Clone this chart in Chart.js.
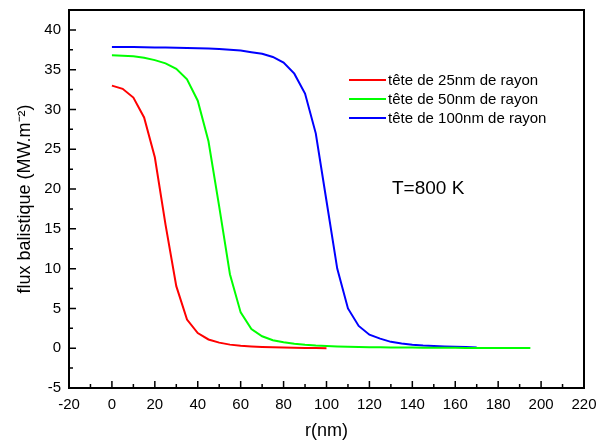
<!DOCTYPE html>
<html>
<head>
<meta charset="utf-8">
<script src="https://cdn.jsdelivr.net/npm/chart.js@4/dist/chart.umd.min.js"></script>
<style>
  html, body { margin: 0; padding: 0; background: #fff; }
  #wrap { width: 601px; height: 444px; }
</style>
</head>
<body>
<div id="wrap"><canvas id="chart"></canvas></div>
<script>
// radius grid (nm), shared by all three curves
const rValues = [0, 5, 10, 15, 20, 25, 30, 35, 40, 45, 50, 55, 60, 65, 70, 75, 80, 85, 90, 95,
                 100, 105, 110, 115, 120, 125, 130, 135, 140, 145, 150, 155, 160, 165, 170, 175,
                 180, 185, 190, 195];

// ballistic flux (MW.m-2)
const flux25 = [33.0, 32.6, 31.5, 29.0, 24.0, 15.5, 7.8, 3.6, 1.9, 1.1, 0.7, 0.45, 0.3, 0.22,
                0.16, 0.12, 0.09, 0.06, 0.04, 0.02, 0.01];
const flux50 = [36.8, 36.75, 36.7, 36.5, 36.2, 35.8, 35.1, 33.8, 31.1, 26.0, 17.8, 9.3, 4.5, 2.4,
                1.5, 1.0, 0.75, 0.55, 0.42, 0.33, 0.27, 0.22, 0.18, 0.15, 0.13, 0.11, 0.1, 0.09,
                0.08, 0.07, 0.06, 0.05, 0.05, 0.04, 0.04, 0.03, 0.03, 0.03, 0.02, 0.02];
const flux100 = [37.85, 37.85, 37.85, 37.83, 37.8, 37.78, 37.75, 37.73, 37.7, 37.65, 37.6, 37.5,
                 37.4, 37.2, 37.0, 36.6, 35.9, 34.5, 32.0, 27.0, 18.5, 10.0, 5.0, 2.8, 1.7, 1.2,
                 0.8, 0.6, 0.45, 0.35, 0.28, 0.22, 0.18, 0.14, 0.1];

const seriesLabels = ["tête de 25nm de rayon", "tête de 50nm de rayon", "tête de 100nm de rayon"];
const seriesColors = ["#ff0000", "#00ff00", "#0000ff"];

const xTicks = { min: -20, max: 220, major: 20, minor: 10 };
const yTicks = { min: -5, max: 42.5, major: 5, minor: 2.5, lastTick: 40 };

const FONT = "'Liberation Sans', Arial, sans-serif";

function toPoints(vals) {
    return vals.map((v, i) => ({ x: rValues[i], y: v }));
}

// ----------------------- plugins -----------------------

// box frame + inward ticks on the left and bottom axes
const framePlugin = {
    id: "frame",
    afterDatasetsDraw(chart) {
        const { ctx, chartArea: a, scales } = chart;
        ctx.save();
        ctx.strokeStyle = "#000";
        ctx.lineWidth = 2;
        ctx.strokeRect(a.left, a.top, a.right - a.left, a.bottom - a.top);

        ctx.lineWidth = 1.5;
        ctx.beginPath();
        for (let v = xTicks.min; v <= xTicks.max + 0.001; v += xTicks.minor) {
            const px = scales.x.getPixelForValue(v);
            const len = (Math.abs(v % xTicks.major) < 0.001) ? 7 : 4;
            ctx.moveTo(px, a.bottom);
            ctx.lineTo(px, a.bottom - len);
        }
        for (let v = yTicks.min; v <= yTicks.lastTick + 0.001; v += yTicks.minor) {
            const py = scales.y.getPixelForValue(v);
            const len = (Math.abs(v % yTicks.major) < 0.001) ? 7 : 4;
            ctx.moveTo(a.left, py);
            ctx.lineTo(a.left + len, py);
        }
        ctx.stroke();
        ctx.restore();
    }
};

// legend box and temperature note inside the plot
const notesPlugin = {
    id: "notes",
    afterDraw(chart) {
        const { ctx } = chart;
        ctx.save();
        ctx.font = "15px " + FONT;
        ctx.textBaseline = "middle";
        ctx.textAlign = "left";
        chart.data.datasets.forEach((ds, i) => {
            const y = 80 + i * 19;
            ctx.strokeStyle = ds.borderColor;
            ctx.lineWidth = 2;
            ctx.beginPath();
            ctx.moveTo(349, y);
            ctx.lineTo(386, y);
            ctx.stroke();
            ctx.fillStyle = "#000";
            ctx.fillText(ds.label, 388, y + 1);
        });
        ctx.font = "19px " + FONT;
        ctx.fillText("T=800 K", 392, 189);
        ctx.restore();
    }
};

// ----------------------- chart -----------------------

const datasets = [flux25, flux50, flux100].map((vals, i) => ({
    label: seriesLabels[i],
    data: toPoints(vals),
    borderColor: seriesColors[i],
    backgroundColor: seriesColors[i],
    borderWidth: 2,
    pointRadius: 0,
    tension: 0,
    fill: false
}));

new Chart(document.getElementById("chart"), {
    type: "line",
    data: { datasets: datasets },
    options: {
        responsive: true,
        maintainAspectRatio: false,
        animation: false,
        layout: { padding: { top: 10, right: 17, left: 0, bottom: 0 } },
        plugins: {
            legend: { display: false },
            tooltip: { enabled: false }
        },
        scales: {
            x: {
                type: "linear",
                min: xTicks.min,
                max: xTicks.max,
                grid: { drawOnChartArea: false, drawTicks: false },
                border: { display: false },
                ticks: {
                    stepSize: xTicks.major,
                    color: "#000",
                    padding: 8,
                    font: { family: FONT, size: 15 }
                },
                title: {
                    display: true,
                    text: "r(nm)",
                    color: "#000",
                    padding: { top: 0, bottom: 2 },
                    font: { family: FONT, size: 18 }
                },
                afterFit(scale) {
                    scale.height = 56;
                    scale.paddingLeft = 0;
                    scale.paddingRight = 0;
                }
            },
            y: {
                type: "linear",
                min: yTicks.min,
                max: yTicks.max,
                grid: { drawOnChartArea: false, drawTicks: false },
                border: { display: false },
                ticks: {
                    stepSize: yTicks.major,
                    includeBounds: false,
                    color: "#000",
                    padding: 8,
                    font: { family: FONT, size: 15 }
                },
                title: {
                    display: true,
                    text: "flux balistique (MW.m⁻²)",
                    color: "#000",
                    padding: { top: 14, bottom: 0 },
                    font: { family: FONT, size: 18 }
                },
                afterFit(scale) {
                    scale.width = 69;
                    scale.paddingTop = 0;
                    scale.paddingBottom = 0;
                }
            }
        }
    },
    plugins: [framePlugin, notesPlugin]
});
</script>
</body>
</html>
